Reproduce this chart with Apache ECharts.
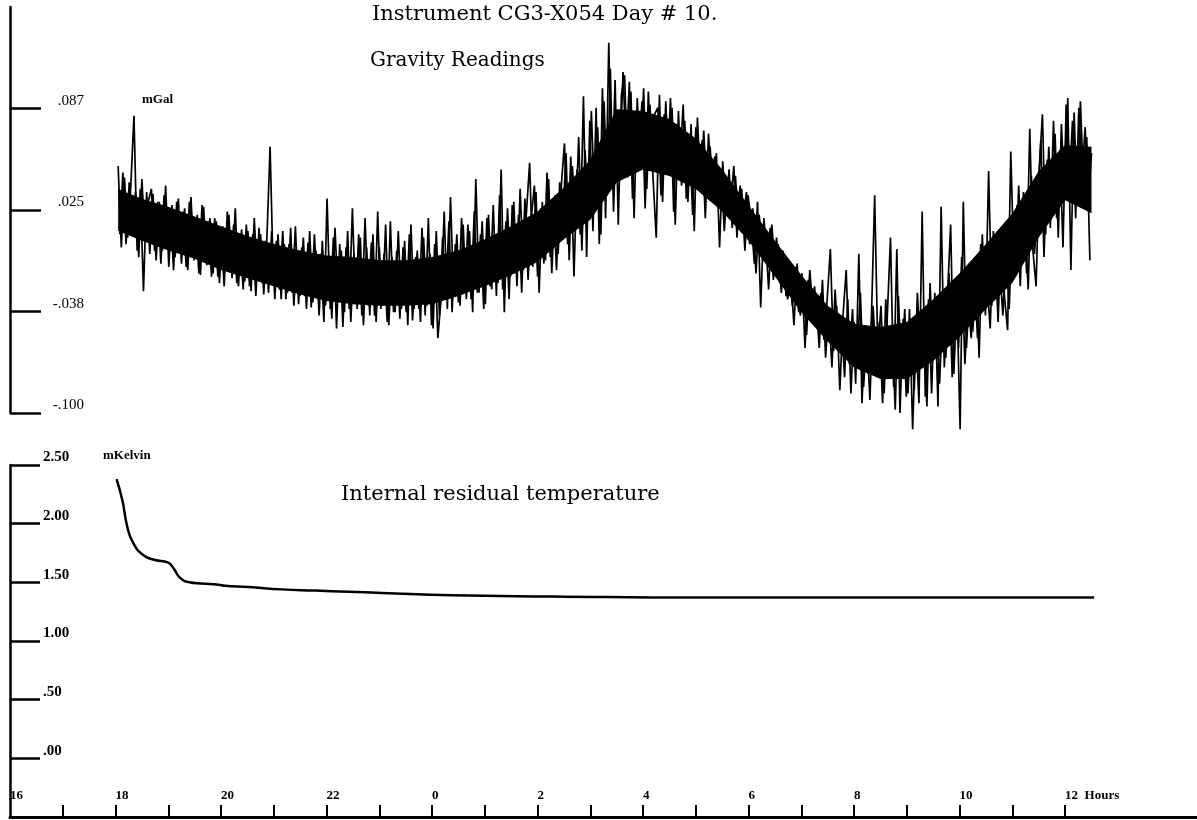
<!DOCTYPE html>
<html><head><meta charset="utf-8">
<script src="https://cdn.jsdelivr.net/npm/echarts@6/dist/echarts.min.js"></script>
<style>html,body{margin:0;padding:0;background:#fff}#c{width:1197px;height:820px}</style>
</head><body><div id="c"></div>
<script>
// ---- data ----
const gravityStartHour = 18.05;   // first reading, hours since midnight of day start
const gravityStepHours = 0.06;    // spacing of the plotted readings
const gravityValues = [
 .052,.002,.045,.008,.040,.083,.000,.038,-.025,.036,
 -.002,.035,-.006,.030,.000,.040,-.010,.028,-.004,.032,
 -.008,.026,-.012,.033,-.006,.022,-.015,.027,-.009,.020,
 -.014,.018,-.020,.015,-.012,.022,-.017,.026,-.022,.013,
 -.019,.012,-.025,.020,-.018,.010,-.027,.008,.064,-.015,
 .006,-.024,.012,-.030,.004,-.026,.015,-.033,.002,-.028,
 .005,-.035,.010,-.030,-.002,-.044,.032,-.036,.008,-.048,
 .004,-.047,.002,-.036,.026,-.032,.010,-.040,.020,-.034,
 .005,-.040,.024,-.036,-.002,-.044,.018,-.038,.000,-.042,
 .002,-.038,.010,-.043,-.004,-.036,.014,-.040,.020,-.046,
 .004,-.054,-.030,.024,-.036,.033,-.028,.010,-.034,.016,
 -.030,.012,-.038,.044,-.026,.018,-.033,.022,-.024,.010,
 -.020,.050,-.038,.026,-.016,.030,-.022,.038,-.012,.024,
 .054,-.010,.036,-.026,.030,-.006,.044,-.014,.034,-.002,
 .040,.066,.004,.058,-.016,.050,.010,.095,-.004,.080,
 .012,.088,.004,.100,.020,.128,.040,.105,.016,.096,
 .108,.045,.098,.020,.094,.050,.100,.038,.090,.044,
 .008,.096,.030,.092,.048,.088,.016,.086,.040,.080,
 .030,.078,.012,.082,.040,.074,.032,.064,.036,.060,
 .002,.055,.022,.050,.014,.046,.018,.038,.000,.034,
 .018,-.008,.030,-.035,.020,-.006,.014,-.018,.008,-.020,
 .000,-.028,-.006,-.034,-.010,-.038,-.014,-.060,-.018,-.042,
 -.022,-.048,-.026,-.055,-.030,.001,-.062,-.034,-.086,-.040,
 -.012,-.070,-.036,-.082,-.002,-.094,-.046,-.076,-.040,.034,
 -.062,-.034,-.088,-.040,.008,-.084,.001,-.100,-.042,-.090,
 -.036,-.110,-.050,-.094,.024,-.090,-.030,-.088,-.026,-.096,
 .027,-.072,-.028,.016,-.076,-.030,-.110,.030,-.060,-.022,
 -.050,-.008,-.066,.010,-.040,.049,-.034,.002,-.044,.014,
 -.028,-.049,.061,-.010,.028,-.022,.036,-.014,.075,.000,
 -.022,.050,.084,.010,.064,.024,.072,.008,.078,.032,
 .094,-.012,.085,.030,.092,.040,.070,-.006
];
// readings in between the ones above (half a step later)
const gravityStartHourB = 18.08;
const gravityValuesB = [
 .010,.048,.004,.042,.012,.036,-.004,.044,.006,.030,
 .038,.000,.030,-.008,.034,.004,.026,-.012,.030,-.002,
 .024,-.010,.030,-.004,.020,-.014,.028,-.006,.018,-.016,
 .020,-.016,.012,-.022,.024,-.010,.016,-.020,.010,-.024,
 .016,-.022,.010,-.028,.014,-.020,.006,-.026,.012,-.030,
 .010,-.030,.004,-.026,.014,-.034,.000,-.028,.008,-.036,
 .012,-.032,.000,-.040,.006,-.034,-.004,-.042,.014,-.030,
 .000,-.038,.012,-.044,-.002,-.036,.008,-.046,.002,-.040,
 .010,-.044,.002,-.034,.016,-.046,-.004,-.038,.012,-.036,
 .006,-.046,.016,-.036,.000,-.044,.008,-.034,-.002,-.048,
 .012,-.040,.008,-.030,.018,-.038,.004,-.032,.020,-.026,
 .016,-.030,.024,-.026,.010,-.036,.020,-.022,.028,-.028,
 .034,-.024,.018,-.030,.028,-.014,.022,-.026,.032,-.018,
 .020,.040,-.016,.026,-.008,.048,-.004,.030,-.012,.042,
 .020,.060,-.006,.052,.016,.070,.000,.062,.024,.086,
 .030,.076,.010,.092,.034,.112,.024,.082,.052,.110,
 .060,.104,.032,.086,.060,.092,.026,.098,.052,.084,
 .088,.034,.084,.050,.094,.024,.078,.054,.090,.032,
 .070,.022,.076,.046,.068,.020,.072,.042,.058,.026,
 .050,.012,.044,.028,.052,.008,.040,.020,.036,.004,
 .026,-.014,.022,.002,.010,-.024,.016,-.010,.004,-.026,
 -.004,-.030,-.016,-.046,-.008,-.040,-.024,-.052,-.012,-.036,
 -.030,-.060,-.018,-.066,-.036,-.072,-.024,-.058,-.044,-.078,
 -.030,-.088,-.044,-.060,-.026,-.084,-.052,-.092,-.034,-.070,
 -.044,-.094,-.030,-.070,-.050,-.098,-.028,-.076,-.036,-.088,
 -.048,-.086,-.026,-.070,-.040,-.096,-.020,-.064,-.044,-.082,
 -.036,-.066,-.014,-.078,-.024,-.060,-.004,-.070,-.030,-.054,
 -.016,-.054,.004,-.036,-.020,-.048,.012,-.030,-.010,-.040,
 .004,-.036,.020,-.016,.040,-.006,.018,-.024,.046,-.002,
 .030,.068,-.004,.056,.014,.080,.020,.062,.002,.090,
 .040,.080,.020,.088,.046,.076,.030,.060
];
// dense core of the noisy gravity trace (where readings overlap into solid black)
const bandHours = [18.05,18.5,19,19.5,20,20.5,21,21.5,22,22.5,23,23.5,24,24.5,25,25.5,26,26.5,27,27.5,28,28.5,29,29.5,30,30.5,31,31.5,32,32.5,33,33.5,34,34.5,35,35.5,36,36.5];
const bandHigh = [.038,.032,.027,.021,.015,.009,.004,.000,-.003,-.004,-.006,-.006,-.004,.000,.007,.015,.024,.039,.056,.087,.086,.081,.069,.050,.028,.006,-.015,-.034,-.045,-.047,-.044,-.030,-.014,.004,.023,.049,.065,.064];
const bandLow  = [.012,.006,.000,-.005,-.012,-.017,-.022,-.027,-.031,-.033,-.034,-.034,-.033,-.028,-.022,-.015,-.007,.007,.019,.042,.050,.046,.038,.024,.006,-.016,-.038,-.056,-.072,-.079,-.079,-.068,-.053,-.036,-.020,.008,.031,.023];

const tempHours = [18.02,18.13,18.22,18.33,18.53,18.75,18.99,19.10,19.22,19.40,19.63,19.95,20.08,20.52,21.15,21.78,22.42,23.05,24.37,26.27,29.11,31.01,32.90,34.80,36.55];
const tempValues = [2.38,2.20,1.98,1.84,1.73,1.69,1.67,1.62,1.54,1.50,1.49,1.48,1.47,1.46,1.44,1.43,1.42,1.41,1.39,1.38,1.37,1.37,1.37,1.37,1.37];

const hourTickValues = [17,18,19,20,21,22,23,24,25,26,27,28,29,30,31,32,33,34,35,36];
const hourLabelValues = [16,18,20,22,24,26,28,30,32,34,36];
const hourLabels = ['16','18','20','22','0','2','4','6','8','10','12  Hours'];
const gravityTickValues = [-0.1,-0.0375,0.025,0.0875];
const gravityTickLabels = ['-.100','-.038','.025','.087'];
const tempTickValues = [0,0.5,1,1.5,2,2.5];
const tempTickLabels = ['.00','.50','1.00','1.50','2.00','2.50'];

function labelFor(vals, labels){
  return function(v){
    for (let i=0;i<vals.length;i++){ if (Math.abs(vals[i]-v) < 1e-6) return labels[i]; }
    return '';
  };
}

const gravityData = gravityValues.map((v,i)=>[gravityStartHour + i*gravityStepHours, v]);
const gravityDataB = gravityValuesB.map((v,i)=>[gravityStartHourB + i*gravityStepHours, v]);
const tempData = tempHours.map((h,i)=>[h, tempValues[i]]);

// dense core drawn as one polygon whose corners come from api.coord (axis scales)
function renderBand(params, api){
  const pts = [];
  for (let i=0;i<bandHours.length;i++) pts.push(api.coord([bandHours[i], bandHigh[i]]));
  for (let i=bandHours.length-1;i>=0;i--) pts.push(api.coord([bandHours[i], bandLow[i]]));
  return {type:'polygon', shape:{points:pts}, style:{fill:'#000'}};
}

const serif = 'Liberation Serif';
const tStyle = (size)=>({fontFamily:'DejaVu Serif', fontSize:size, fontWeight:'normal', color:'#000'});
const chart = echarts.init(document.getElementById('c'), null, {renderer:'canvas'});
chart.setOption({
  animation:false,
  backgroundColor:'#fff',
  title:[
    {text:'Instrument CG3-X054 Day # 10.', left:372, top:4, padding:0, textStyle:tStyle(21)},
    {text:'Gravity Readings', left:370, top:51, padding:0, textStyle:tStyle(20)},
    {text:'Internal residual temperature', left:341, top:484, padding:0, textStyle:tStyle(21)},
    {text:'mGal', left:142, top:93, padding:0, textStyle:{fontFamily:serif, fontSize:13, fontWeight:'bold', color:'#000'}},
    {text:'mKelvin', left:103, top:449, padding:0, textStyle:{fontFamily:serif, fontSize:13, fontWeight:'bold', color:'#000'}}
  ],
  grid:[
    {left:10, width:1187, top:7, height:406},
    {left:10, width:1187, top:465, height:352}
  ],
  xAxis:[
    {gridIndex:0, type:'value', min:16, max:38.5, show:false},
    {gridIndex:1, type:'value', min:16, max:38.5, position:'bottom',
     axisLine:{show:true, onZero:false, lineStyle:{color:'#000', width:3}},
     axisTick:{show:true, inside:true, length:12, lineStyle:{color:'#000', width:2}, customValues:hourTickValues},
     axisLabel:{show:true, inside:true, customValues:hourLabelValues, formatter:labelFor(hourLabelValues, hourLabels),
       align:'left', verticalAlign:'bottom', margin:15, color:'#000', fontFamily:serif, fontSize:13, fontWeight:'bold'},
     splitLine:{show:false}}
  ],
  yAxis:[
    {gridIndex:0, type:'value', min:-0.1, max:0.15,
     axisLine:{show:true, onZero:false, lineStyle:{color:'#000', width:2.5}},
     axisTick:{show:true, inside:true, length:31, lineStyle:{color:'#000', width:2.5}, customValues:gravityTickValues},
     axisLabel:{show:true, inside:true, customValues:gravityTickValues, formatter:labelFor(gravityTickValues, gravityTickLabels),
       align:'right', verticalAlign:'bottom', margin:74, color:'#000', fontFamily:serif, fontSize:15},
     splitLine:{show:false}},
    {gridIndex:1, type:'value', min:-0.5, max:2.5,
     axisLine:{show:true, onZero:false, lineStyle:{color:'#000', width:2.5}},
     axisTick:{show:true, inside:true, length:30, lineStyle:{color:'#000', width:2.5}, customValues:tempTickValues},
     axisLabel:{show:true, inside:true, customValues:tempTickValues, formatter:labelFor(tempTickValues, tempTickLabels),
       align:'left', verticalAlign:'bottom', margin:33, color:'#000', fontFamily:serif, fontSize:15, fontWeight:'bold'},
     splitLine:{show:false}}
  ],
  series:[
    {type:'custom', name:'band', xAxisIndex:0, yAxisIndex:0, data:[[bandHours[0], bandHigh[0]]],
     renderItem:renderBand, silent:true, clip:false},
    {type:'line', name:'Gravity', xAxisIndex:0, yAxisIndex:0, data:gravityData, symbol:'none', clip:false,
     sampling:null, lineStyle:{color:'#000', width:1.7}},
    {type:'line', name:'Gravity (between)', xAxisIndex:0, yAxisIndex:0, data:gravityDataB, symbol:'none', clip:false,
     sampling:null, lineStyle:{color:'#000', width:1.7}},
    {type:'line', name:'Temperature', xAxisIndex:1, yAxisIndex:1, data:tempData, symbol:'none', clip:false,
     smooth:0.5, lineStyle:{color:'#000', width:2.5}}
  ]
});
</script>
</body></html>
